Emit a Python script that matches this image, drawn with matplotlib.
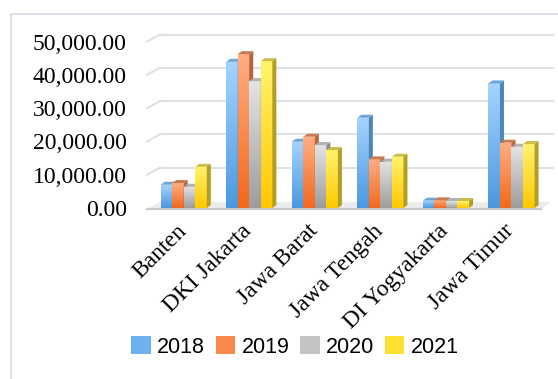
import numpy as np
import matplotlib
matplotlib.use('Agg')
import matplotlib.pyplot as plt
from matplotlib.patches import Polygon, Rectangle, Patch
from matplotlib.colors import LinearSegmentedColormap
from matplotlib.transforms import IdentityTransform, ScaledTranslation

# ---- data ----
categories = ['Banten', 'DKI Jakarta', 'Jawa Barat', 'Jawa Tengah', 'DI Yogyakarta', 'Jawa Timur']
years = ['2018', '2019', '2020', '2021']
v2018 = [6980, 43900, 19900, 27100, 2200, 37400]
v2019 = [7490, 46200, 21400, 14600, 2300, 19600]
v2020 = [6380, 38100, 18900, 13900, 2100, 18400]
v2021 = [12370, 44100, 17400, 15400, 2100, 19200]
series = [v2018, v2019, v2020, v2021]
yticks = [0, 10000, 20000, 30000, 40000, 50000]
ytick_labels = ['0.00', '10,000.00', '20,000.00', '30,000.00', '40,000.00', '50,000.00']

# ---- style ----
W, H, DPI = 558, 379, 100
# (gradient top, gradient bottom, side face, top face, legend)
styles = [
    ('#a6d4fe', '#4a98e0', '#4f86b8', '#6fa5d6', '#6fb1ef'),
    ('#ffae84', '#f2691c', '#b5643c', '#c97a4e', '#f98a4a'),
    ('#e4e4e4', '#9c9c9c', '#8c8c8c', '#b2b2b2', '#c4c4c4'),
    ('#fff36e', '#ffc800', '#b19e22', '#cdbd48', '#ffdf30'),
]
DX, DY = 4, 3          # bar depth (pixels)
WX, WY = 13, 7         # back wall offset (pixels)
grid_color = '#dde1e8'

fig = plt.figure(figsize=(W / DPI, H / DPI), dpi=DPI)
fig.patch.set_facecolor('white')

# outer frame
fig.add_artist(Rectangle((11 / W, -0.1), 1.2, (H - 14) / H + 0.1, transform=fig.transFigure,
                         fill=False, edgecolor='#d3dae4', lw=1.2))

left_px, right_px, bot_px, top_px = 147, 541, 208, 41.5
ax = fig.add_axes([left_px / W, (H - bot_px) / H, (right_px - left_px) / W, (bot_px - top_px) / H])
ax.set_facecolor('none')
for s in ax.spines.values():
    s.set_visible(False)

n = len(categories)
xlim = (-0.56, n - 0.55)
ylim = (0, 50000)
ax.set_xlim(*xlim)
ax.set_ylim(*ylim)

bw = 0.176
x = np.arange(n)

ident = IdentityTransform()

def disp(px, py):
    return ax.transData.transform((px, py))

# back wall gridlines + left diagonals
for t in yticks:
    p0 = disp(xlim[0], t)
    p1 = disp(xlim[1], t)
    if t > 0:
        ax.add_line(plt.Line2D([p0[0] + WX, p1[0] + WX - 1], [p0[1] + WY, p1[1] + WY],
                               transform=ident, color=grid_color, lw=1.5, clip_on=False, zorder=1))
        ax.add_line(plt.Line2D([p0[0], p0[0] + WX], [p0[1], p0[1] + WY],
                               transform=ident, color=grid_color, lw=1.5, clip_on=False, zorder=1))
    else:
        # floor
        floor = Polygon([[p0[0], p0[1] - 1], [p1[0], p1[1] - 1],
                         [p1[0] + WX - 3, p1[1] + WY - 1], [p0[0] + WX, p0[1] + WY - 1]],
                        closed=True, transform=ident, facecolor='#ebebeb', edgecolor='none',
                        clip_on=False, zorder=1)
        ax.add_patch(floor)
        ax.add_line(plt.Line2D([p0[0], p1[0]], [p0[1] - 1, p1[1] - 1], transform=ident,
                               color='#c8c8c8', lw=1.5, clip_on=False, zorder=1.5))

# bars
grad = np.linspace(1, 0, 256).reshape(-1, 1)
z = 3.0
for i in range(n):
    for j, vals in enumerate(series):
        top_c, bot_c, side_c, topf_c, _ = styles[j]
        cmap = LinearSegmentedColormap.from_list('g%d' % j, [bot_c, top_c])
        xc = x[i] + (j - 1.5) * bw
        bars = ax.bar(xc, vals[i], width=bw, facecolor='none', edgecolor='none', zorder=z)
        patch = bars[0]
        x0, x1 = xc - bw / 2, xc + bw / 2
        im = ax.imshow(grad, extent=[x0, x1, 0, vals[i]], aspect='auto', cmap=cmap,
                       origin='upper', zorder=z, interpolation='bilinear')
        im.set_clip_path(patch)
        a0 = disp(x0, 0)
        a1 = disp(x1, vals[i])
        side = Polygon([[a1[0], a0[1]], [a1[0], a1[1]], [a1[0] + DX, a1[1] + DY], [a1[0] + DX, a0[1] + DY]],
                       closed=True, transform=ident, facecolor=side_c, edgecolor='none',
                       clip_on=False, zorder=z + 0.01)
        ax.add_patch(side)
        topf = Polygon([[a0[0], a1[1]], [a1[0], a1[1]], [a1[0] + DX, a1[1] + DY], [a0[0] + DX, a1[1] + DY]],
                       closed=True, transform=ident, facecolor=topf_c, edgecolor='none',
                       clip_on=False, zorder=z + 0.02)
        ax.add_patch(topf)
        z += 0.1

ax.set_xlim(*xlim)
ax.set_ylim(*ylim)

ax.set_yticks(yticks)
ax.set_yticklabels(ytick_labels, fontfamily='Liberation Serif', fontsize=17)
ax.set_xticks(x)
ax.set_xticklabels(categories, rotation=45, ha='right', va='top', rotation_mode='anchor',
                   fontfamily='Liberation Serif', fontsize=17)
ax.tick_params(axis='y', length=0, pad=14.5)
ax.tick_params(axis='x', length=0, pad=9)
shift = ScaledTranslation(-8 / DPI, 0, fig.dpi_scale_trans)
for lbl in ax.get_xticklabels():
    lbl.set_transform(lbl.get_transform() + shift)

handles = [Patch(facecolor=s[4], edgecolor='none') for s in styles]
fig.legend(handles, years, loc='center', bbox_to_anchor=(295 / W, 1 - 347 / H), ncol=4,
           frameon=False, prop={'family': 'Liberation Sans', 'size': 15.5},
           handlelength=0.9, handleheight=0.9, handletextpad=0.3, columnspacing=0.5)

fig.savefig('out.png', dpi=DPI)
